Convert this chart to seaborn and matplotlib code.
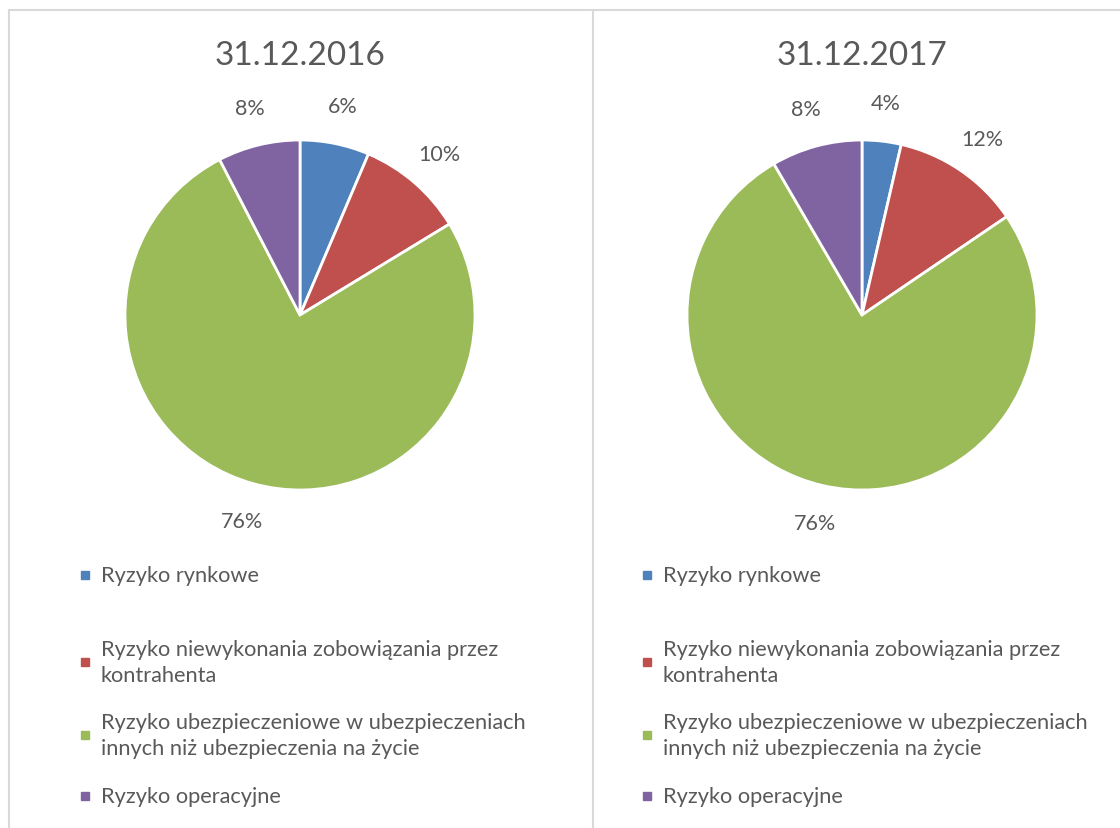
import matplotlib
matplotlib.use("Agg")
from matplotlib import pyplot as plt, patches, lines
import seaborn as sns

# data
categories = [
    "Ryzyko rynkowe",
    "Ryzyko niewykonania zobowiązania przez\nkontrahenta",
    "Ryzyko ubezpieczeniowe w ubezpieczeniach\ninnych niż ubezpieczenia na życie",
    "Ryzyko operacyjne",
]
titles = ["31.12.2016", "31.12.2017"]
shares_2016 = [6.4, 9.9, 76.1, 7.6]
shares_2017 = [3.6, 11.9, 76.1, 8.4]
colors = ["#4F81BD", "#C0504D", "#9BBB59", "#8064A2"]

sns.set_theme(style="white")
plt.rcParams["font.family"] = ["Lato", "DejaVu Sans"]
TXT = "#595959"
GRID = "#D9D9D9"

W, H = 1120, 829
fig = plt.figure(figsize=(W / 100, H / 100), dpi=100)


def fx(px):
    return px / W


def fy(py):
    return 1 - py / H


# panel borders
for x0, y0, x1, y1 in [(9, 11, W, 11), (9, 11, 9, H), (593, 11, 593, H)]:
    fig.add_artist(lines.Line2D([fx(x0), fx(x1)], [fy(y0), fy(y1)],
                                color=GRID, lw=1.5))

panels = [(300, shares_2016), (862, shares_2017)]
r = 175
cy = 316
legend_y = [576, 663, 736, 797]

for (cx, shares), title in zip(panels, titles):
    ax = fig.add_axes([fx(cx - r), fy(cy + r), 2 * r / W, 2 * r / H])
    ax.pie(shares, colors=colors, startangle=90, counterclock=False,
           autopct=lambda p: f"{p:.0f}%", pctdistance=1.22,
           wedgeprops=dict(edgecolor="white", linewidth=2),
           textprops=dict(color=TXT, fontsize=15.5))
    ax.set_xlim(-1, 1)
    ax.set_ylim(-1, 1)
    ax.set_aspect("equal")
    ax.axis("off")
    fig.text(fx(cx), fy(56), title, ha="center", va="center",
             fontsize=24, color=TXT)

    # legend
    lx = cx - 215
    for cat, col, ly in zip(categories, colors, legend_y):
        fig.add_artist(patches.Rectangle((fx(lx - 4), fy(ly + 4)), 8 / W, 8 / H,
                                         color=col, transform=fig.transFigure))
        fig.text(fx(lx + 16), fy(ly), cat, ha="left", va="center",
                 fontsize=15.7, color=TXT, linespacing=1.42)

fig.savefig("out.png", dpi=100)
